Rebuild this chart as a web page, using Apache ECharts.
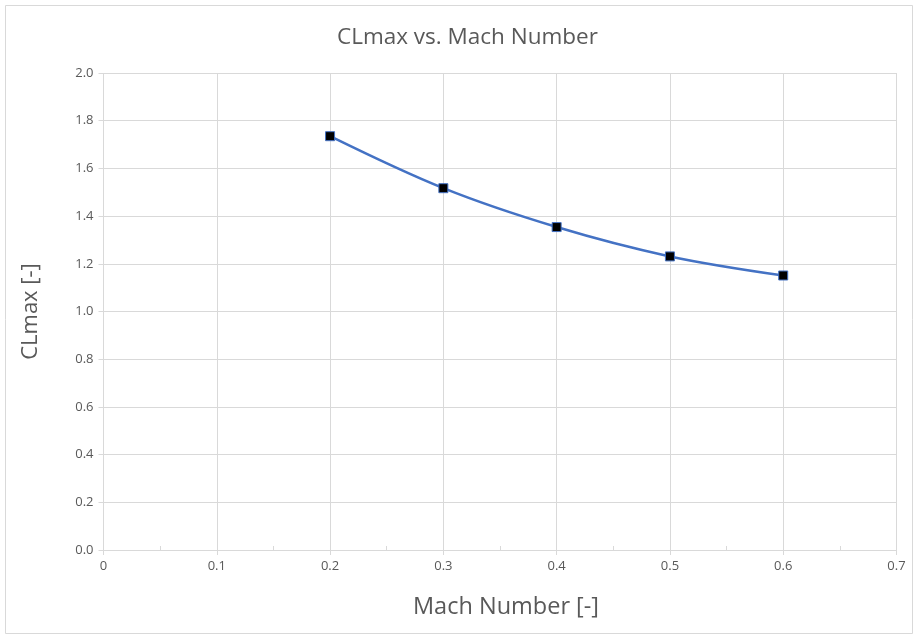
<!DOCTYPE html>
<html>
<head>
<meta charset="utf-8">
<script src="https://cdn.jsdelivr.net/npm/echarts@6/dist/echarts.min.js"></script>
<style>
html,body{margin:0;padding:0;background:#fff;}
#chart{width:915px;height:636px;}
</style>
</head>
<body>
<div id="chart"></div>
<script>
const titleText = "CLmax vs. Mach Number";
const xAxisName = "Mach Number [-]";
const yAxisName = "CLmax [-]";
const machValues = [0.2, 0.3, 0.4, 0.5, 0.6];
const clmaxValues = [1.735, 1.517, 1.354, 1.231, 1.151];

const FONT = "'Open Sans', sans-serif";
const chart = echarts.init(document.getElementById('chart'), null, {renderer: 'canvas'});
chart.setOption({
  backgroundColor: '#ffffff',
  animation: false,
  title: {
    text: titleText,
    left: 332,
    top: 21,
    textStyle: {fontFamily: FONT, fontSize: 22.5, fontWeight: 'normal', color: '#595959'}
  },
  graphic: [{
    type: 'rect',
    shape: {x: 5.5, y: 5.5, width: 907, height: 628},
    style: {fill: 'none', stroke: '#d9d9d9', lineWidth: 1},
    silent: true
  }],
  grid: {left: 103.5, right: 18.5, top: 73, bottom: 86, containLabel: false},
  xAxis: [{
    type: 'value',
    min: 0, max: 0.7, interval: 0.1,
    name: xAxisName,
    nameLocation: 'middle',
    nameGap: 45,
    nameTextStyle: {fontFamily: FONT, fontSize: 23.5, color: '#595959', padding: [0, 0, 0, 12]},
    axisLine: {show: true, lineStyle: {color: '#d9d9d9', width: 1}},
    axisTick: {show: true, inside: false, length: 5, lineStyle: {color: '#d9d9d9'}},
    axisLabel: {fontFamily: FONT, fontSize: 13, color: '#595959', margin: 10,
      formatter: v => v === 0 ? '0' : v.toFixed(1)},
    splitLine: {show: true, lineStyle: {color: '#d9d9d9', width: 1}}
  }, {
    type: 'value',
    position: 'bottom',
    min: 0, max: 0.7, interval: 0.05,
    axisLine: {show: false},
    axisTick: {show: true, inside: true, length: 4, lineStyle: {color: '#d9d9d9'}},
    axisLabel: {show: false},
    splitLine: {show: false}
  }],
  yAxis: {
    type: 'value',
    min: 0, max: 2.0, interval: 0.2,
    name: yAxisName,
    nameLocation: 'middle',
    nameGap: 62,
    nameTextStyle: {fontFamily: FONT, fontSize: 22, color: '#595959'},
    axisLine: {show: false},
    axisTick: {show: true, length: 5, lineStyle: {color: '#d9d9d9'}},
    axisLabel: {fontFamily: FONT, fontSize: 13, color: '#595959', margin: 10,
      formatter: v => v.toFixed(1)},
    splitLine: {show: true, lineStyle: {color: '#d9d9d9', width: 1}}
  },
  series: [{
    type: 'line',
    xAxisIndex: 0,
    data: machValues.map((m, i) => [m, clmaxValues[i]]),
    smooth: 0.35,
    symbol: 'rect',
    symbolSize: 9,
    lineStyle: {color: '#4472C4', width: 2.5},
    itemStyle: {color: '#000000', borderColor: '#4472C4', borderWidth: 1},
    z: 3
  }]
});
</script>
</body>
</html>
